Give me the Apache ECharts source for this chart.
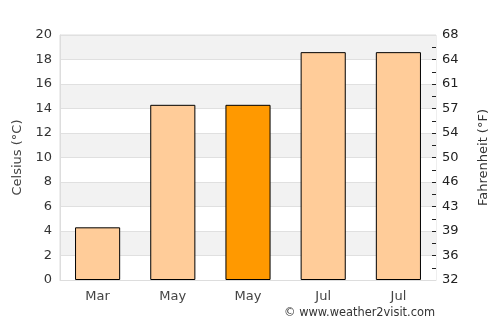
<!DOCTYPE html>
<html><head><meta charset="utf-8">
<script src="https://cdn.jsdelivr.net/npm/echarts@6/dist/echarts.min.js"></script>
<style>html,body{margin:0;padding:0;background:#fff}#c{width:500px;height:325px}</style>
</head><body><div id="c"></div>
<script>
const categories = ['Mar', 'May', 'May', 'Jul', 'Jul'];
const celsius = [4.3, 14.3, 14.3, 18.6, 18.6];
const highlightIndex = 2;
const fahrenheitLabels = ['32', '36', '39', '43', '46', '50', '54', '57', '61', '64', '68'];

// right axis: one slot per 1 °C step, labels on every second slot
const rightSlots = [];
for (let i = 0; i <= 20; i++) rightSlots.push(i % 2 === 0 ? fahrenheitLabels[i / 2] : '');

const chart = echarts.init(document.getElementById('c'), null, {renderer: 'canvas'});
const font = 'DejaVu Sans';
chart.setOption({
  animation: false,
  grid: {left: 60, right: 64, top: 35, bottom: 45, show: true, borderColor: '#dddddd', borderWidth: 1, backgroundColor: 'transparent'},
  xAxis: {
    type: 'category', data: categories,
    axisLine: {show: true, lineStyle: {color: '#dddddd'}},
    axisTick: {show: false},
    axisLabel: {color: '#444', fontFamily: font, fontSize: 13, margin: 10}
  },
  yAxis: [{
    type: 'value', min: 0, max: 20, interval: 2, position: 'left',
    name: 'Celsius (°C)', nameLocation: 'middle', nameGap: 35,
    nameTextStyle: {color: '#444', fontFamily: font, fontSize: 13},
    axisLine: {show: true, lineStyle: {color: '#dddddd'}},
    axisTick: {show: false},
    axisLabel: {color: '#333', fontFamily: font, fontSize: 13, margin: 8},
    splitLine: {show: true, lineStyle: {color: '#e0e0e0'}},
    splitArea: {show: true, areaStyle: {color: ['#ffffff', '#f2f2f2']}}
  }, {
    type: 'category', data: rightSlots, boundaryGap: false, position: 'right',
    name: 'Fahrenheit (°F)', nameLocation: 'middle', nameGap: 41,
    nameTextStyle: {color: '#333', fontFamily: font, fontSize: 13},
    axisLine: {show: false},
    axisTick: {show: true, inside: true, length: 4, interval: (idx) => idx > 0 && idx < 20, lineStyle: {color: '#222'}},
    axisLabel: {color: '#222', fontFamily: font, fontSize: 13, margin: 6, interval: 0},
    splitLine: {show: false},
    splitArea: {show: false}
  }],
  series: [{
    type: 'bar', yAxisIndex: 0, barWidth: '60%',
    data: celsius.map((v, i) => ({value: v, itemStyle: {color: i === highlightIndex ? '#ff9900' : '#ffcc99'}})),
    itemStyle: {borderColor: '#000', borderWidth: 1}
  }],
  graphic: [{
    type: 'text', right: 65, bottom: 6,
    style: {text: '© www.weather2visit.com', fill: '#333', font: '11.4px "DejaVu Sans"'}
  }]
});
</script></body></html>
